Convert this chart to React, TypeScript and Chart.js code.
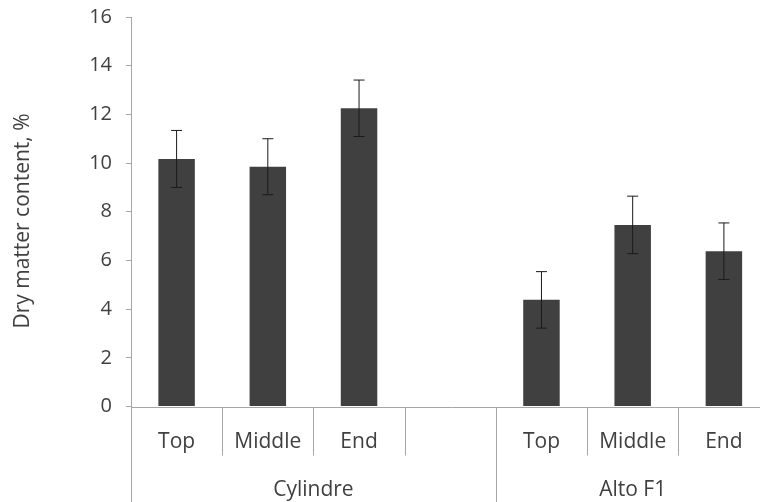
import React, { useEffect, useRef } from "react";
import { Chart, registerables } from "chart.js";

Chart.register(...registerables);

const categories = ["Top", "Middle", "End", "", "Top", "Middle", "End"];
const groups = [
  { label: "Cylindre", start: 0, end: 3 },
  { label: "Alto F1", start: 4, end: 6 },
];
const values: (number | null)[] = [10.17, 9.85, 12.25, null, 4.38, 7.46, 6.38];
const errors: (number | null)[] = [1.17, 1.15, 1.16, null, 1.16, 1.18, 1.16];
const yTicks = { min: 0, max: 16, step: 2 };
const yTitle = "Dry matter content, %";

const FONT = "'Open Sans', 'DejaVu Sans', sans-serif";
const TEXT = "#404040";
const AXIS = "#a6a6a6";

const W = 772;
const H = 502;

export default function App() {
  const ref = useRef<HTMLCanvasElement | null>(null);

  useEffect(() => {
    const canvas = ref.current;
    if (!canvas) return;

    const overlay = {
      id: "overlay",
      afterDatasetsDraw(chart: any) {
        const ctx = chart.ctx;
        const ys = chart.scales.y;
        const meta = chart.getDatasetMeta(0);
        ctx.save();
        ctx.strokeStyle = "#1a1a1a";
        ctx.lineWidth = 1;
        meta.data.forEach((el: any, i: number) => {
          const v = values[i];
          const e = errors[i];
          if (v == null || e == null) return;
          const x = el.x;
          const yt = ys.getPixelForValue(v + e);
          const yb = ys.getPixelForValue(v - e);
          ctx.beginPath();
          ctx.moveTo(x, yt);
          ctx.lineTo(x, yb);
          ctx.moveTo(x - 5.5, yt);
          ctx.lineTo(x + 5.5, yt);
          ctx.moveTo(x - 5.5, yb);
          ctx.lineTo(x + 5.5, yb);
          ctx.stroke();
        });
        ctx.restore();
      },
      afterDraw(chart: any) {
        const ctx = chart.ctx;
        const area = chart.chartArea;
        const xs = chart.scales.x;
        const n = categories.length;
        const cw = (area.right - area.left) / n;
        const base = Math.round(area.bottom) + 0.5;
        ctx.save();
        ctx.strokeStyle = AXIS;
        ctx.lineWidth = 1;
        ctx.beginPath();
        ctx.moveTo(area.left, base);
        ctx.lineTo(chart.width, base);
        ctx.stroke();
        const groupEdges = new Set<number>();
        groups.forEach((g) => {
          groupEdges.add(g.start);
          groupEdges.add(g.end + 1);
        });
        for (let b = 0; b <= n; b++) {
          const x = Math.round(xs.getPixelForValue(b) - cw / 2) + 0.5;
          const isGroup = groupEdges.has(b) || b === 0 || b === n;
          ctx.beginPath();
          ctx.moveTo(x, base);
          ctx.lineTo(x, isGroup ? H : base + 48);
          ctx.stroke();
        }
        ctx.fillStyle = TEXT;
        ctx.font = `21px ${FONT}`;
        ctx.textAlign = "center";
        ctx.textBaseline = "alphabetic";
        categories.forEach((c, i) => {
          if (!c) return;
          ctx.fillText(c, xs.getPixelForValue(i), base + 40);
        });
        groups.forEach((g) => {
          const x0 = xs.getPixelForValue(g.start) - cw / 2;
          const x1 = xs.getPixelForValue(g.end) + cw / 2;
          ctx.fillText(g.label, (x0 + x1) / 2, base + 88);
        });
        ctx.translate(23, 221);
        ctx.rotate(-Math.PI / 2);
        ctx.textBaseline = "middle";
        ctx.fillText(yTitle, 0, 0);
        ctx.restore();
      },
    };

    const chart = new Chart(canvas, {
      type: "bar",
      data: {
        labels: categories,
        datasets: [
          {
            data: values as any,
            backgroundColor: "#404040",
            borderWidth: 0,
            categoryPercentage: 1,
            barPercentage: 0.4,
          },
        ],
      },
      options: {
        animation: false,
        responsive: false,
        devicePixelRatio: 1,
        events: [],
        layout: { padding: { top: 17, left: 0, right: 2.5, bottom: 95.5 } },
        plugins: {
          legend: { display: false },
          tooltip: { enabled: false },
          title: { display: false },
        },
        scales: {
          x: {
            display: false,
            offset: true,
          },
          y: {
            min: yTicks.min,
            max: yTicks.max,
            afterFit(scale: any) {
              scale.width = 131;
              scale.paddingTop = 0;
              scale.paddingBottom = 0;
            },
            ticks: {
              stepSize: yTicks.step,
              color: TEXT,
              font: { family: FONT, size: 20 },
              padding: 14,
            },
            grid: {
              drawOnChartArea: false,
              drawTicks: true,
              tickLength: 5,
              color: AXIS,
            },
            border: { display: true, color: AXIS },
          },
        },
      },
      plugins: [overlay],
    });

    return () => chart.destroy();
  }, []);

  return (
    <div
      style={{
        position: "fixed",
        left: 0,
        top: 0,
        width: 760,
        height: 502,
        overflow: "hidden",
        background: "#fff",
      }}
    >
      <canvas ref={ref} width={W} height={H} style={{ width: W, height: H, display: "block" }} />
    </div>
  );
}
